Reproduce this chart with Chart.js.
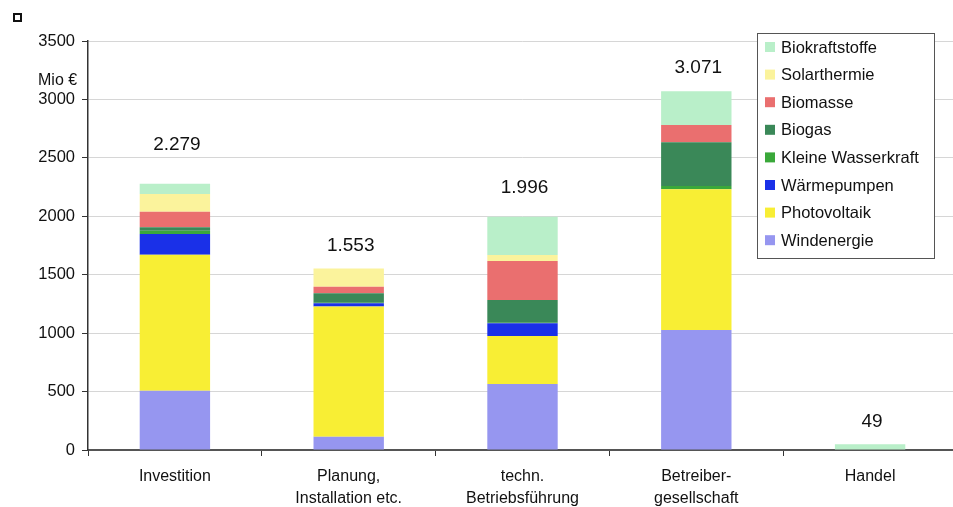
<!DOCTYPE html>
<html>
<head>
<meta charset="utf-8">
<script src="https://cdn.jsdelivr.net/npm/chart.js@4.4.1/dist/chart.umd.min.js"></script>
<style>
  html, body { margin: 0; padding: 0; background: #ffffff; overflow: hidden; }
  #wrap { position: relative; width: 960px; height: 507px; }
  #marker { position: absolute; left: 13px; top: 13px; width: 5px; height: 5px; border: 2px solid #111; }
</style>
</head>
<body>
<div id="wrap">
  <canvas id="chart" width="960" height="507"></canvas>
  <div id="marker"></div>
</div>
<script>
// Beschäftigungsbereiche (Kategorien der x-Achse)
const categories = [
  ['Investition'],
  ['Planung,', 'Installation etc.'],
  ['techn.', 'Betriebsführung'],
  ['Betreiber-', 'gesellschaft'],
  ['Handel']
];

// Werte in Mio € je Sparte und Bereich
const windenergie      = [508, 114, 565, 1027, 0];
const photovoltaik     = [1163, 1113, 411, 1204, 0];
const waermepumpen     = [177, 28, 108, 0, 0];
const kleineWasserkraft= [29, 5, 5, 28, 0];
const biogas           = [29, 81, 195, 374, 0];
const biomasse         = [133, 57, 333, 148, 0];
const solarthermie     = [152, 155, 52, 0, 0];
const biokraftstoffe   = [88, 0, 327, 290, 49];

const yTicks = [0, 500, 1000, 1500, 2000, 2500, 3000, 3500];

const FONT = '"Liberation Sans", Arial, Helvetica, sans-serif';

const datasets = [
  { label: 'Windenergie',         data: windenergie,       backgroundColor: '#9696f0' },
  { label: 'Photovoltaik',        data: photovoltaik,      backgroundColor: '#f8ee34' },
  { label: 'Wärmepumpen',         data: waermepumpen,      backgroundColor: '#1a30e8' },
  { label: 'Kleine Wasserkraft',  data: kleineWasserkraft, backgroundColor: '#3aa83a' },
  { label: 'Biogas',              data: biogas,            backgroundColor: '#3a8858' },
  { label: 'Biomasse',            data: biomasse,          backgroundColor: '#ea6f6f' },
  { label: 'Solarthermie',        data: solarthermie,      backgroundColor: '#fbf39c' },
  { label: 'Biokraftstoffe',      data: biokraftstoffe,    backgroundColor: '#b9efc9' }
];

// Summen über den Stapeln
const totalLabels = {
  id: 'totalLabels',
  afterDatasetsDraw(chart, args, opts) {
    const { ctx } = chart;
    const y = chart.scales.y;
    const x = chart.scales.x;
    ctx.save();
    ctx.font = '19px ' + FONT;
    ctx.fillStyle = '#111';
    ctx.textAlign = 'center';
    ctx.textBaseline = 'middle';
    chart.data.labels.forEach((_, i) => {
      const sum = chart.data.datasets.reduce((s, d) => s + d.data[i], 0);
      const txt = sum.toLocaleString('de-DE');
      const lift = (opts.lift && opts.lift[i]) || 0;
      ctx.fillText(txt, x.getPixelForValue(i) + 2, y.getPixelForValue(sum) - 23 - lift);
    });
    ctx.restore();
  }
};

// Legende als umrandeter Kasten oben rechts
const boxLegend = {
  id: 'boxLegend',
  afterDraw(chart, args, opts) {
    const { ctx } = chart;
    ctx.save();
    ctx.fillStyle = '#ffffff';
    ctx.fillRect(opts.x, opts.y, opts.w, opts.h);
    ctx.strokeStyle = '#555';
    ctx.lineWidth = 1;
    ctx.strokeRect(opts.x + 0.5, opts.y + 0.5, opts.w, opts.h);
    ctx.font = '16.5px ' + FONT;
    ctx.textBaseline = 'middle';
    ctx.textAlign = 'left';
    const items = chart.data.datasets.slice().reverse();
    items.forEach((d, k) => {
      const cy = opts.y + 14 + k * opts.step;
      ctx.fillStyle = d.backgroundColor;
      ctx.fillRect(opts.x + 8, cy - 5, 10, 10);
      ctx.fillStyle = '#111';
      ctx.fillText(d.label, opts.x + 24, cy + 1);
    });
    ctx.restore();
  }
};

// Einheit an der y-Achse
const unitLabel = {
  id: 'unitLabel',
  afterDraw(chart) {
    const { ctx } = chart;
    ctx.save();
    ctx.font = '16px ' + FONT;
    ctx.fillStyle = '#111';
    ctx.textAlign = 'left';
    ctx.textBaseline = 'middle';
    ctx.fillText('Mio €', 38, 81);
    ctx.restore();
  }
};

new Chart(document.getElementById('chart'), {
  type: 'bar',
  data: { labels: categories, datasets },
  options: {
    responsive: false,
    animation: false,
    layout: { padding: { top: 41, right: 3, left: 0, bottom: 0 } },
    datasets: { bar: { categoryPercentage: 1.0, barPercentage: 0.405, borderWidth: 0 } },
    plugins: {
      legend: { display: false },
      tooltip: { enabled: false },
      totalLabels: { lift: [16, 0, 6, 0, 0] },
      boxLegend: { x: 757, y: 33, w: 177, h: 225, step: 27.6 }
    },
    scales: {
      x: {
        stacked: true,
        afterFit(s) { s.height = 57; },
        grid: { display: true, drawOnChartArea: false, offset: true, tickLength: 6, tickColor: '#333', tickWidth: 1 },
        border: { display: true, color: '#555', width: 2 },
        ticks: { color: '#111', font: { family: FONT, size: 16, lineHeight: 1.35 }, padding: 10, maxRotation: 0, autoSkip: false }
      },
      y: {
        stacked: true,
        min: 0,
        max: 3500,
        afterFit(s) { s.width = 88; },
        afterBuildTicks(s) { s.ticks = yTicks.map(v => ({ value: v })); },
        grid: { color: '#d6d6d6', lineWidth: 1, tickLength: 6, tickColor: '#333', tickWidth: 1 },
        border: { display: true, color: '#333', width: 1.5 },
        ticks: { color: '#111', font: { family: FONT, size: 16.5 }, padding: 7, callback: v => String(v) }
      }
    }
  },
  plugins: [totalLabels, boxLegend, unitLabel]
});
</script>
</body>
</html>
